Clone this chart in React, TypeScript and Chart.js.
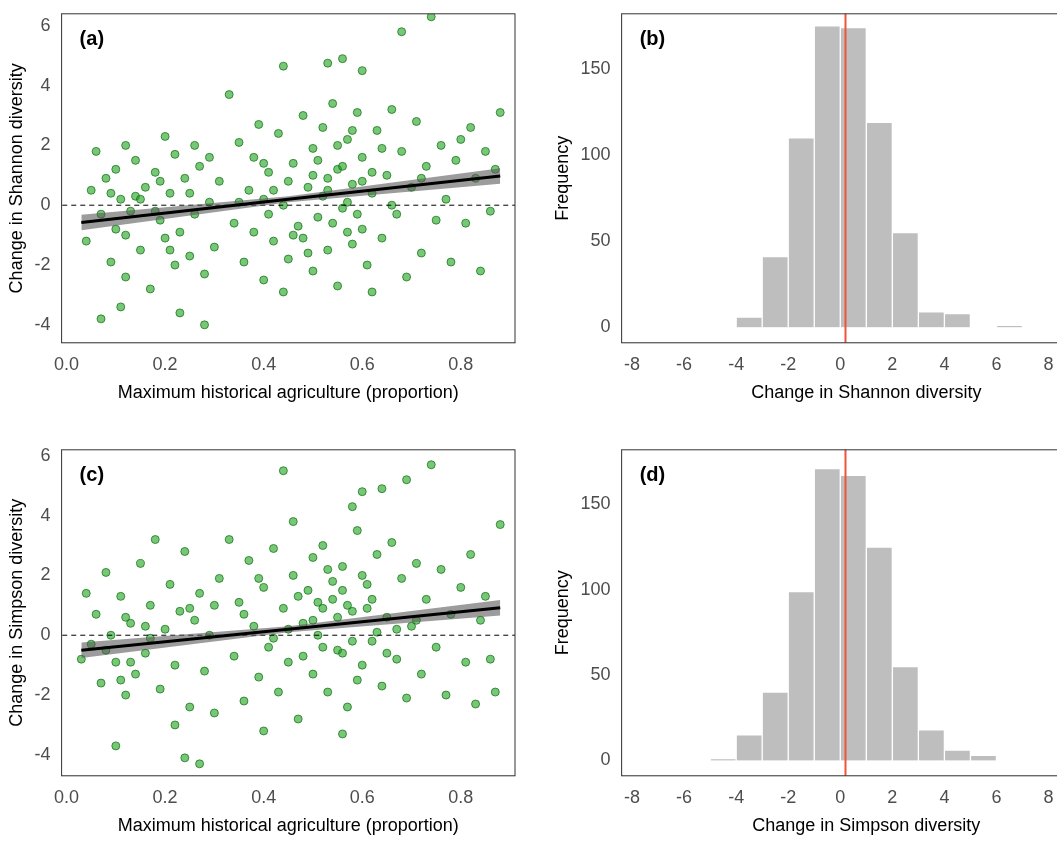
import React, { useEffect, useRef } from "react";
import { Chart, registerables } from "chart.js";
Chart.register(...registerables);

// scatter points: [x, y]
const shannonPts: number[][] = [
  [0.74,6.3],[0.68,5.8],[0.56,4.9],[0.53,4.75],[0.44,4.65],[0.6,4.5],[0.33,3.7],[0.07,-3.8],[0.11,-3.4],[0.28,-4.0],
  [0.23,-3.6],[0.44,-2.9],[0.62,-2.9],[0.88,3.1],[0.82,2.6],[0.8,2.2],[0.04,-1.2],[0.05,0.5],[0.06,1.8],[0.07,-0.3],
  [0.08,0.9],[0.09,-1.9],[0.1,1.2],[0.1,-0.8],[0.11,0.2],[0.12,2.0],[0.12,-2.4],[0.13,-0.2],[0.14,1.5],[0.15,-1.5],
  [0.16,0.6],[0.17,-2.8],[0.18,1.1],[0.19,-0.5],[0.2,2.3],[0.2,-1.1],[0.21,0.4],[0.22,-2.0],[0.22,1.7],[0.23,-0.9],
  [0.24,0.9],[0.25,-1.7],[0.26,2.0],[0.26,-0.3],[0.27,1.3],[0.28,-2.3],[0.29,0.1],[0.3,-1.4],[0.31,0.8],[0.34,-0.6],
  [0.35,2.1],[0.36,-1.9],[0.37,0.5],[0.38,1.6],[0.38,-0.9],[0.39,2.7],[0.4,-2.5],[0.4,0.2],[0.41,1.1],[0.42,-1.2],
  [0.43,2.4],[0.44,0.0],[0.45,-1.8],[0.46,1.4],[0.47,-0.7],[0.48,3.0],[0.49,0.6],[0.5,-2.2],[0.5,1.9],[0.51,-0.4],
  [0.52,2.6],[0.53,-1.5],[0.53,0.9],[0.54,3.4],[0.55,-2.7],[0.55,1.2],[0.56,-0.1],[0.57,2.2],[0.58,-1.3],[0.58,0.7],
  [0.59,3.1],[0.6,-0.8],[0.6,1.6],[0.61,-2.0],[0.62,0.4],[0.63,2.5],[0.64,-1.1],[0.65,1.0],[0.66,3.2],[0.67,-0.3],
  [0.68,1.8],[0.69,-2.4],[0.7,0.6],[0.71,2.8],[0.72,-1.6],[0.73,1.3],[0.75,-0.5],[0.76,2.0],[0.77,0.2],[0.78,-1.9],
  [0.79,1.5],[0.81,-0.6],[0.83,0.9],[0.84,-2.2],[0.85,1.8],[0.86,-0.2],[0.87,1.2],[0.45,0.8],[0.52,0.3],[0.57,-0.9],
  [0.35,0.1],[0.18,-0.2],[0.14,0.3],[0.48,-1.1],[0.62,1.1],[0.66,0.0],[0.41,-0.3],[0.29,1.6],[0.09,0.4],[0.72,0.9],
  [0.5,1.0],[0.51,1.5],[0.53,0.5],[0.54,-0.6],[0.55,2.0],[0.56,1.3],[0.57,0.1],[0.58,2.5],[0.59,-0.3],[0.6,0.8],
  [0.12,-1.0],[0.15,0.2],[0.19,0.8],[0.21,-1.5],[0.25,0.4],[0.4,1.4],[0.42,0.5],[0.46,-1.0],[0.49,-1.6],[0.64,1.9],
];
const simpsonPts: number[][] = [
  [0.74,5.7],[0.44,5.5],[0.69,5.2],[0.64,4.9],[0.6,4.8],[0.46,3.8],[0.58,4.3],[0.88,3.7],[0.1,-3.7],[0.27,-4.3],
  [0.24,-4.1],[0.22,-3.0],[0.4,-3.2],[0.56,-3.3],[0.03,-0.8],[0.04,1.4],[0.05,-0.3],[0.06,0.7],[0.07,-1.6],[0.08,2.1],
  [0.09,0.0],[0.1,-0.9],[0.11,1.3],[0.12,-2.0],[0.13,0.4],[0.14,-1.3],[0.15,2.4],[0.16,-0.6],[0.17,1.0],[0.18,3.2],
  [0.19,-1.8],[0.2,0.2],[0.21,1.7],[0.22,-1.0],[0.23,0.8],[0.24,2.8],[0.25,-2.4],[0.26,0.5],[0.27,1.4],[0.28,-1.2],
  [0.29,0.0],[0.3,-2.6],[0.31,1.9],[0.33,3.2],[0.34,-0.7],[0.35,1.1],[0.36,-2.2],[0.37,2.5],[0.38,0.3],[0.39,-1.4],
  [0.4,1.6],[0.41,-0.4],[0.42,2.9],[0.43,-1.9],[0.44,0.9],[0.45,-0.9],[0.46,2.0],[0.47,-2.8],[0.48,0.4],[0.49,1.5],
  [0.5,-1.3],[0.5,2.6],[0.51,0.0],[0.52,3.0],[0.53,-1.9],[0.54,1.2],[0.55,-0.5],[0.56,2.3],[0.57,-2.4],[0.58,0.8],
  [0.59,3.5],[0.6,-1.0],[0.61,1.7],[0.62,-0.2],[0.63,2.7],[0.64,-1.7],[0.65,0.6],[0.66,3.1],[0.67,-0.8],[0.68,1.9],
  [0.69,-2.1],[0.7,0.3],[0.71,2.4],[0.72,-1.3],[0.73,1.2],[0.75,-0.4],[0.76,2.2],[0.77,-2.0],[0.78,0.7],[0.8,1.6],
  [0.81,-0.9],[0.82,2.7],[0.83,-2.3],[0.84,0.5],[0.85,1.3],[0.86,-0.8],[0.87,-1.9],[0.45,0.2],[0.52,0.9],[0.56,-0.6],
  [0.36,0.7],[0.17,-0.1],[0.12,0.6],[0.48,-0.7],[0.61,0.9],[0.67,0.2],[0.42,-0.1],[0.3,1.0],[0.08,-0.5],[0.71,0.5],
  [0.54,1.8],[0.59,-1.5],[0.39,1.9],[0.25,0.9],[0.13,-0.9],[0.63,0.1],[0.5,0.5],[0.47,1.3],[0.57,1.0],[0.65,-0.6],
  [0.51,1.1],[0.52,-0.4],[0.53,2.2],[0.55,0.6],[0.56,1.5],[0.58,-0.2],[0.6,2.0],[0.62,1.2],[0.11,-1.5],[0.16,0.3],
];
// regression fit and confidence band
const fitX = [0.03, 0.45, 0.88];
const fitA = [-0.58, 0.2, 0.98];
const fitC = [-0.5, 0.2, 0.92];
const bandHalf = [0.26, 0.1, 0.26];

// histograms: bin centres and counts
const histX = [-4.5, -3.5, -2.5, -1.5, -0.5, 0.5, 1.5, 2.5, 3.5, 4.5, 5.5, 6.5];
const shannonCounts = [0, 6, 41, 110, 175, 174, 119, 55, 9, 8, 0, 1];
const simpsonCounts = [1, 15, 40, 99, 171, 167, 125, 55, 18, 6, 3, 0];
const meanLine = 0.2;

const FONT = "'Liberation Sans', Arial, sans-serif";
const TICK = { color: "#4d4d4d", font: { family: FONT, size: 18 } };
const AXTITLE = { color: "#000", font: { family: FONT, size: 18 } };

const boxPlugin = (label: string, vline?: number) => ({
  id: "box" + label,
  afterDraw(chart: any) {
    const { ctx, chartArea: a, scales } = chart;
    ctx.save();
    if (vline !== undefined) {
      const x = scales.x.getPixelForValue(vline);
      ctx.strokeStyle = "#f0533a";
      ctx.lineWidth = 2;
      ctx.beginPath();
      ctx.moveTo(x, a.top);
      ctx.lineTo(x, a.bottom);
      ctx.stroke();
    }
    ctx.strokeStyle = "#333";
    ctx.lineWidth = 1;
    ctx.strokeRect(a.left, a.top, a.right - a.left, a.bottom - a.top);
    ctx.fillStyle = "#000";
    ctx.font = `bold 20px ${FONT}`;
    ctx.textBaseline = "top";
    ctx.fillText(label, a.left + 18, a.top + 16);
    ctx.restore();
  },
});

function scatterConfig(pts: number[][], fit: number[], yLabel: string, label: string, ymin: number, ymax: number): any {
  return {
    type: "scatter",
    data: {
      datasets: [
        {
          data: fitX.map((x, i) => ({ x, y: fit[i] + bandHalf[i] })),
          showLine: true, pointRadius: 0, borderWidth: 0, borderColor: "transparent",
          backgroundColor: "rgba(90,90,90,0.6)", fill: "+1", order: 1,
        },
        {
          data: fitX.map((x, i) => ({ x, y: fit[i] - bandHalf[i] })),
          showLine: true, pointRadius: 0, borderWidth: 0, borderColor: "transparent", order: 1,
        },
        {
          data: pts.map(([x, y]) => ({ x, y })),
          pointRadius: 4, backgroundColor: "rgba(30,160,30,0.6)", borderColor: "rgba(10,110,10,0.7)",
          borderWidth: 1, order: 3,
        },
        {
          data: fitX.map((x, i) => ({ x, y: fit[i] })),
          showLine: true, pointRadius: 0, borderWidth: 3, borderColor: "#000", order: 0,
        },
        {
          data: [{ x: -0.1, y: 0 }, { x: 1, y: 0 }],
          showLine: true, pointRadius: 0, borderWidth: 1, borderColor: "#000", borderDash: [5, 4], order: 2,
        },
      ],
    },
    options: {
      animation: false, responsive: false,
      plugins: { legend: { display: false }, tooltip: { enabled: false } },
      layout: { padding: { right: 4, top: 4, left: 2 } },
      scales: {
        x: {
          type: "linear", min: -0.01, max: 0.91, grid: { display: false },
          afterBuildTicks: (s: any) => { s.ticks = [0, 0.2, 0.4, 0.6, 0.8].map((v) => ({ value: v })); },
          ticks: { ...TICK, callback: (v: number) => v.toFixed(1) },
          title: { display: true, text: "Maximum historical agriculture (proportion)", ...AXTITLE },
        },
        y: {
          min: ymin, max: ymax, grid: { display: false },
          afterBuildTicks: (s: any) => { s.ticks = [-4, -2, 0, 2, 4, 6].map((v) => ({ value: v })); },
          ticks: TICK,
          title: { display: true, text: yLabel, ...AXTITLE },
        },
      },
    },
    plugins: [boxPlugin(label)],
  };
}

function histConfig(counts: number[], xLabel: string, label: string): any {
  return {
    type: "bar",
    data: {
      datasets: [{
        data: histX.map((x, i) => ({ x, y: counts[i] })),
        backgroundColor: "#bebebe", borderColor: "#fff", borderWidth: 1,
        barPercentage: 1, categoryPercentage: 1,
      }],
    },
    options: {
      animation: false, responsive: false,
      plugins: { legend: { display: false }, tooltip: { enabled: false } },
      layout: { padding: { top: 4, right: 2 } },
      scales: {
        x: {
          type: "linear", min: -8.4, max: 10.4, offset: false, grid: { display: false },
          afterBuildTicks: (s: any) => { s.ticks = [-8, -6, -4, -2, 0, 2, 4, 6, 8].map((v) => ({ value: v })); },
          ticks: TICK,
          title: { display: true, text: xLabel, ...AXTITLE },
        },
        y: {
          min: -9, max: 182, grid: { display: false },
          afterBuildTicks: (s: any) => { s.ticks = [0, 50, 100, 150].map((v) => ({ value: v })); },
          ticks: TICK,
          title: { display: true, text: "Frequency", ...AXTITLE },
        },
      },
    },
    plugins: [boxPlugin(label, meanLine)],
  };
}

function Panel({ cfg, left, top, w, h }: { cfg: any; left: number; top: number; w: number; h: number }) {
  const ref = useRef<HTMLCanvasElement>(null);
  useEffect(() => {
    const chart = new Chart(ref.current as HTMLCanvasElement, cfg);
    return () => chart.destroy();
  }, []);
  return <canvas ref={ref} width={w} height={h} style={{ position: "absolute", left, top, width: w, height: h }} />;
}

export default function App() {
  useEffect(() => { document.body.style.margin = "0"; }, []);
  return (
    <div style={{ position: "relative", width: 1057, height: 841, background: "#fff", overflow: "hidden" }}>
      <Panel cfg={scatterConfig(shannonPts, fitA, "Change in Shannon diversity", "(a)", -4.6, 6.4)} left={0} top={0} w={520} h={408} />
      <Panel cfg={histConfig(shannonCounts, "Change in Shannon diversity", "(b)")} left={548} top={0} w={565} h={408} />
      <Panel cfg={scatterConfig(simpsonPts, fitC, "Change in Simpson diversity", "(c)", -4.7, 6.2)} left={0} top={436} w={520} h={405} />
      <Panel cfg={histConfig(simpsonCounts, "Change in Simpson diversity", "(d)")} left={548} top={436} w={565} h={405} />
    </div>
  );
}
